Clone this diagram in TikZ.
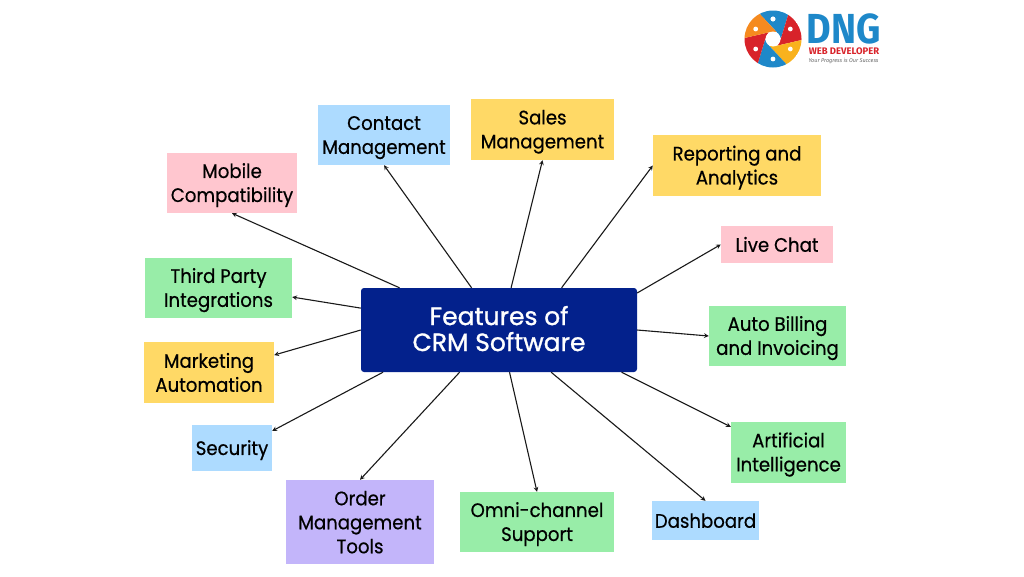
\documentclass[tikz,border=0pt]{standalone}
\usepackage{fontspec}
\setmainfont[FakeStretch=0.93, FakeBold=0.5]{Poppins}
\newfontfamily\hubfont[FakeBold=1.1]{Poppins}
\newfontfamily\logofont{Fira Sans}
\newfontfamily\dngfont[FakeStretch=0.9]{Fira Sans}
\newcommand{\topstrut}{\rule{0pt}{19pt}}
\definecolor{hubblue}{HTML}{03218C}
\definecolor{boxpink}{HTML}{FFC6CF}
\definecolor{boxblue}{HTML}{ADDBFF}
\definecolor{boxyellow}{HTML}{FFD966}
\definecolor{boxgreen}{HTML}{98EDA8}
\definecolor{boxpurple}{HTML}{C3B5FA}
\definecolor{logoblue}{HTML}{1E88C9}
\definecolor{logored}{HTML}{D8232A}
\definecolor{logoyellow}{HTML}{F9B21D}
\definecolor{logoorange}{HTML}{F58A1F}
\tikzset{
		feature/.style = {shape=rectangle, align=center, inner sep=0pt,
				text=black, font=\fontsize{19.5}{24}\selectfont,
				execute at end node={\rule[-4.5pt]{0pt}{4.5pt}}},
		pinkbox/.style   = {feature, fill=boxpink},
		bluebox/.style   = {feature, fill=boxblue},
		yellowbox/.style = {feature, fill=boxyellow},
		greenbox/.style  = {feature, fill=boxgreen},
		purplebox/.style = {feature, fill=boxpurple},
		hub/.style       = {shape=rectangle, rounded corners=3pt, align=center, fill=hubblue,
				text=white, font=\hubfont\fontsize{25}{26}\selectfont,
				execute at end node={\rule[-3pt]{0pt}{3pt}}},
		link/.style      = {draw=black!90, line width=1.1pt, -stealth}
	}

\begin{document}
\begin{tikzpicture}
				[x = 1pt, y = -1pt]
				\useasboundingbox (0,0) rectangle (1024,576);
				% centre
				\node [hub, minimum width=276pt, minimum height=84pt] (crm) at (499,330) {Features of\\CRM Software};
				% features, clockwise
				\node [pinkbox, minimum width=130pt, minimum height=60pt] (mobile) at (232,183) {\topstrut Mobile\\Compatibility};
				\node [bluebox, minimum width=132pt, minimum height=60pt] (contact) at (384,135) {\topstrut Contact\\Management};
				\node [yellowbox, minimum width=143pt, minimum height=61pt] (sales) at (542.5,129.5) {\topstrut Sales\\Management};
				\node [yellowbox, minimum width=168pt, minimum height=61pt] (reporting) at (737,165.5) {\topstrut Reporting and\\Analytics};
				\node [pinkbox, minimum width=112pt, minimum height=37pt] (chat) at (777,244.5) {\topstrut Live Chat};
				\node [greenbox, minimum width=137pt, minimum height=60pt] (billing) at (777.5,336) {\topstrut Auto Billing\\and Invoicing};
				\node [greenbox, minimum width=115pt, minimum height=61pt] (ai) at (788.5,452.5) {\topstrut Artificial\\Intelligence};
				\node [bluebox, minimum width=107pt, minimum height=39pt] (dashboard) at (705.5,520.5) {\topstrut Dashboard};
				\node [greenbox, minimum width=154pt, minimum height=60pt] (omni) at (537,522) {\topstrut Omni-channel\\Support};
				\node [purplebox, minimum width=148pt, minimum height=84pt] (order) at (360,522) {\topstrut Order\\Management\\Tools};
				\node [bluebox, minimum width=80pt, minimum height=46pt] (security) at (232,448) {\topstrut Security};
				\node [yellowbox, minimum width=130pt, minimum height=61pt] (marketing) at (209,372.5) {\topstrut Marketing\\Automation};
				\node [greenbox, minimum width=147pt, minimum height=60pt] (third) at (218.5,288) {\topstrut Third Party\\Integrations};
				% arrows
				\draw [link] (crm.157.4) -- (mobile.south);
				\draw [link] (crm.123.7) -- (contact.south);
				\draw [link] (crm.74) -- (sales.south);
				\draw [link] (crm.34.7) -- (reporting.west);
				\draw [link] (crm.15.8) -- (chat.west);
				\draw [link] (crm.east) -- (billing.west);
				\draw [link] (crm.-19) -- (ai.156.1);
				\draw [link] (crm.-39.5) -- (dashboard.north);
				\draw [link] (crm.-76.6) -- (omni.north);
				\draw [link] (crm.-133.6) -- (order.north);
				\draw [link] (crm.-160.7) -- (security.23);
				\draw [link] (crm.west) -- (marketing.15.9);
				\draw [link] (crm.171.1) -- (third.-7.7);
				% logo
				\begin{scope}[shift={(773,39)}]
					\clip (0,0) circle (28.5);
					\foreach \a/\c in {-120/logoblue, -60/logored, 0/logoyellow, 60/logoblue, 120/logored, 180/logoorange}
						\fill [\c] (\a:33) -- (\a+60:33) -- (\a+115:8) -- (\a+55:8) -- cycle;
					\fill [white] (0,0) circle (7.5);
					\foreach \a in {-90,-30,...,270}
						\fill [white] (\a:20) circle (2.4);
				\end{scope}
				\node [font=\dngfont\fontsize{42}{42}\selectfont\bfseries, text=logoblue, inner sep=0pt] (dng) at (844,29) {DNG};
				\node [font=\logofont\fontsize{9.5}{10}\selectfont\bfseries, text=logored, inner sep=0pt] (web) at (844,51) {WEB DEVELOPER};
				\node [font=\logofont\fontsize{5.5}{6}\selectfont\itshape, text=black!60, inner sep=0pt] (tagline) at (843.5,61) {Your Progress is Our Success};
			\end{tikzpicture}
\end{document}
